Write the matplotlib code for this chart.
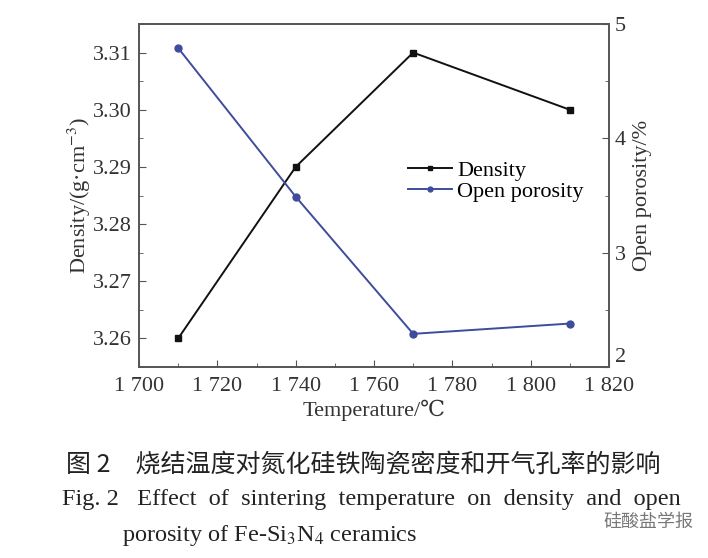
import numpy as np
import matplotlib
matplotlib.use('Agg')
import matplotlib.pyplot as plt
from matplotlib.ticker import MultipleLocator, FuncFormatter

temperature = [1710, 1740, 1770, 1810]
density = [3.260, 3.290, 3.310, 3.300]
porosity = [4.79, 3.49, 2.29, 2.38]
porosity_ticks = [2, 3, 4, 5]

serif = ['Liberation Serif', 'DejaVu Serif']
cjk = ['Noto Sans CJK SC', 'DejaVu Sans']
plt.rcParams['font.family'] = serif
plt.rcParams['mathtext.fontset'] = 'stix'

fig = plt.figure(figsize=(7.08, 5.58), dpi=100)
ax = fig.add_axes([139/708, 1-367/558, 470/708, 343/558])
ax2 = ax.twinx()

blue = '#3f4c9c'
txt = '#333333'
l1, = ax.plot(temperature, density, '-', color='#111111', marker='s', ms=5, lw=1.4,
              label='Density')
l2, = ax2.plot(temperature, porosity, '-', color=blue, marker='o', ms=5, lw=1.4,
               label='Open porosity')

ax.set_xlim(1700, 1820)
ax.set_ylim(3.255, 3.315)
ax2.set_ylim(2, 5)

ax.xaxis.set_major_locator(MultipleLocator(20))
ax.xaxis.set_minor_locator(MultipleLocator(10))
ax.xaxis.set_major_formatter(FuncFormatter(lambda v, p: '{0} {1:03d}'.format(int(v)//1000, int(v) % 1000)))
ax.yaxis.set_major_locator(MultipleLocator(0.01))
ax.yaxis.set_minor_locator(MultipleLocator(0.005))
ax.yaxis.set_major_formatter(FuncFormatter(lambda v, p: '%.2f' % v))
ax2.set_yticks(porosity_ticks, [str(t) for t in porosity_ticks])
ax2.yaxis.set_minor_locator(MultipleLocator(0.5))

for a in (ax, ax2):
    a.tick_params(which='both', direction='in', labelsize=16, colors='#555555',
                  labelcolor=txt)
    a.tick_params(which='major', length=5)
    a.tick_params(which='minor', length=3)
    for s in a.spines.values():
        s.set_color('#555555')
        s.set_linewidth(1.2)
ax.tick_params(axis='y', right=False, pad=5)
ax.tick_params(axis='x', pad=7)
ax2.tick_params(axis='y', pad=4)
# lowest right label sits a little above its tick, clear of "1 820"
ax2.get_yticklabels()[0].set_verticalalignment('bottom')

ax.set_xlabel('Temperature/\u2103', fontsize=16, color=txt, labelpad=3)
ax.set_ylabel('Density/(g\u00b7cm$^{-3}$)', fontsize=16, color=txt, labelpad=0)
ax2.set_ylabel('Open porosity/%', fontsize=16, color=txt, labelpad=5)

ax.legend([l1, l2], ['Density', 'Open porosity'], loc='upper left',
          bbox_to_anchor=(269/470, 207/343), frameon=False, fontsize=16,
          handlelength=2.0, handletextpad=0.2, borderaxespad=0, borderpad=0,
          labelspacing=0.05, markerscale=0.7)

fig.text(363/708, 1-465/558, '图 2\u3000烧结温度对氮化硅铁陶瓷密度和开气孔率的影响',
         ha='center', va='center', fontsize=18, family=cjk, color='#222222')
fig.text(62/708, 1-500/558,
         'Fig. 2   Effect  of  sintering  temperature  on  density  and  open',
         ha='left', va='center', fontsize=17.5, color='#222222')
fig.text(122/708, 1-535/558, 'porosity of Fe-Si$_3$N$_4$ ceramics',
         ha='left', va='center', fontsize=17.5, color='#222222')
fig.text(603/708, 1-522/558, '硅酸盐学报', ha='left', va='center', fontsize=13,
         family=cjk, color='#777777')

fig.savefig('out.png', dpi=100)
